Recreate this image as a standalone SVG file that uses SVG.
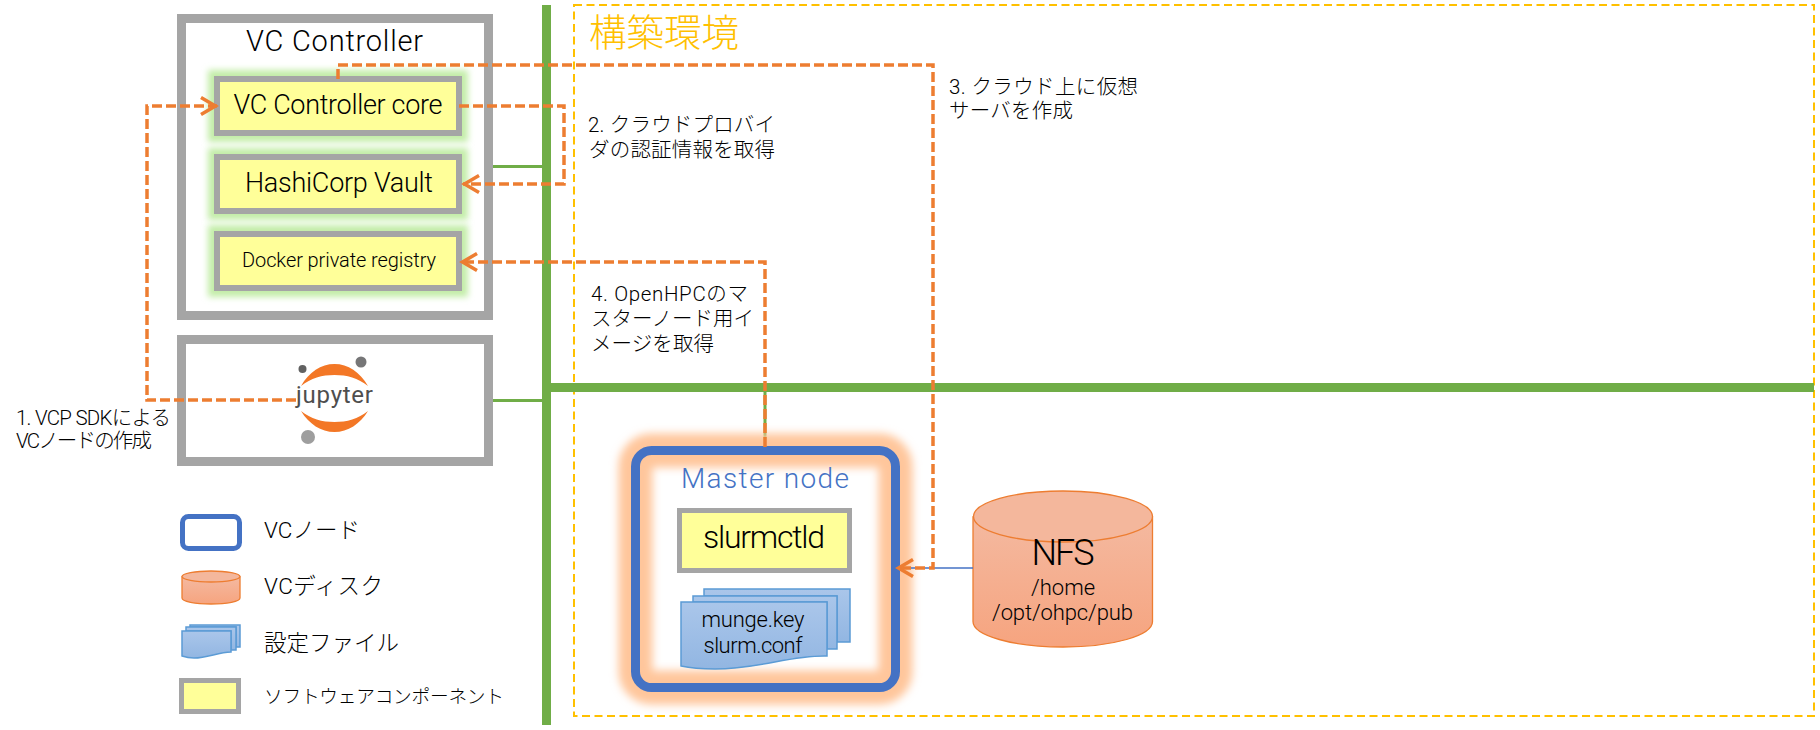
<svg xmlns="http://www.w3.org/2000/svg" width="1820" height="730" viewBox="0 0 1820 730">
<style>
text{font-family:Roboto,"Noto Sans CJK JP","Noto Sans",sans-serif;font-weight:300;fill:#000}
.m{text-anchor:middle}
.box{fill:#fff;stroke:#a5a5a5;stroke-width:9}
.sw{fill:#ff9;stroke:#a5a5a5;stroke-width:6}
.glow{fill:#c3eda8;filter:url(#b4)}
.dash{fill:none;stroke:#ed7d31;stroke-width:3.5;stroke-dasharray:10 4}
.bus{stroke:#70ad47;stroke-width:9;fill:none}
.thin{stroke:#70ad47;stroke-width:3;fill:none}
.sheet{fill:url(#gb);stroke:#5b9bd5;stroke-width:1.5}
.cyl{fill:url(#go);stroke:#ed7d31;stroke-width:1.3}
.cyltop{fill:#f4b79c;stroke:#ed7d31;stroke-width:1.3}
.l{font-size:20.5px}
.t21{font-size:22.5px}
</style>
<defs>
<filter id="b4" x="-30%" y="-60%" width="160%" height="220%"><feGaussianBlur stdDeviation="3"/></filter>
<filter id="b5" x="-20%" y="-20%" width="140%" height="140%"><feGaussianBlur stdDeviation="4"/></filter>
<linearGradient id="gb" x1="0" y1="0" x2="0" y2="1"><stop offset="0" stop-color="#aac6ea"/><stop offset="1" stop-color="#92b6e2"/></linearGradient>
<linearGradient id="go" x1="0" y1="0" x2="0" y2="1"><stop offset="0" stop-color="#f4b9a0"/><stop offset="1" stop-color="#f6a47f"/></linearGradient>
<marker id="arr" markerUnits="userSpaceOnUse" markerWidth="26" markerHeight="26" refX="21" refY="13" orient="auto"><path d="M5 4.5L19.5 13L5 21.5" fill="none" stroke="#ed7d31" stroke-width="3.5"/></marker>
</defs>

<g id="environment">
<rect x="574" y="5" width="1240" height="711" fill="none" stroke="#ffc000" stroke-width="2" stroke-dasharray="8 4.5"/>
<text x="589" y="46" font-size="37.500" textLength="150" lengthAdjust="spacingAndGlyphs" style="fill:#ffc000">構築環境</text>
</g>

<g id="network">
<path class="bus" d="M546.500 5V725M551 387.500H1814"/>
<path class="thin" d="M493 166.500H542M493 400.500H542M765 392V447"/>
</g>

<g id="vc-controller">
<rect class="box" x="181.500" y="18.500" width="307" height="297"/>
<text class="m" x="334.500" y="51" font-size="29" textLength="177" lengthAdjust="spacing">VC Controller</text>
</g>
<g id="vc-core">
<rect class="glow" x="208" y="70" width="260" height="72"/>
<rect class="sw" x="217" y="79" width="242" height="54"/>
<text class="m" x="338" y="114" font-size="27" textLength="209" lengthAdjust="spacing">VC Controller core</text>
</g>
<g id="vault">
<rect class="glow" x="208" y="148" width="260" height="72"/>
<rect class="sw" x="217" y="157" width="242" height="54"/>
<text class="m" x="339" y="192" font-size="27" textLength="188" lengthAdjust="spacing">HashiCorp Vault</text>
</g>
<g id="docker-registry">
<rect class="glow" x="208" y="225" width="260" height="72"/>
<rect class="sw" x="217" y="234" width="242" height="54"/>
<text class="m" x="339" y="267" font-size="20" textLength="194" lengthAdjust="spacing">Docker private registry</text>
</g>

<g id="jupyter">
<rect class="box" x="181.500" y="339.500" width="307" height="122"/>
<path d="M301 386C309 372 321 364 334.500 364C348 364 360 372 368 386C358 378 347 375 334.500 375C322 375 311 378 301 386Z" fill="#f37726"/>
<path d="M301 411C309 424 321 432 334.500 432C348 432 360 424 368 411C358 419 347 422 334.500 422C322 422 311 419 301 411Z" fill="#f37726"/>
<circle cx="302.500" cy="369" r="4" fill="#616161"/>
<circle cx="361" cy="362" r="5.500" fill="#767677"/>
<circle cx="308" cy="437" r="7" fill="#9e9e9e"/>
<text x="296" y="403" font-size="24" textLength="77" lengthAdjust="spacing" style="fill:#4e4e4e;font-weight:400">jupyter</text>
</g>

<g id="master-node">
<rect x="635.500" y="450.500" width="260" height="237" rx="16" fill="#fff"/>
<rect x="635.500" y="450.500" width="260" height="237" rx="16" fill="none" stroke="#ffc69b" stroke-width="34" filter="url(#b5)"/>
<rect x="635.500" y="450.500" width="260" height="237" rx="16" fill="none" stroke="#4472c4" stroke-width="9"/>
<text class="m" x="765" y="488" font-size="28" textLength="168" lengthAdjust="spacing" style="fill:#4472c4">Master node</text>
</g>
<g id="slurmctld">
<rect x="679.500" y="510.500" width="170" height="60" fill="#ff9" stroke="#a5a5a5" stroke-width="5"/>
<text class="m" x="764" y="548" font-size="32" textLength="122" lengthAdjust="spacing">slurmctld</text>
</g>
<g id="config-files">
<path class="sheet" d="M704 589H850V642H837V596H704Z"/>
<path class="sheet" d="M693 596H837V649H827V602H693Z"/>
<path class="sheet" d="M681 602H827V656C790 655 760 669 715 669C700 669 690 668 681 666Z"/>
<text class="m" x="753" y="627" font-size="22" textLength="103" lengthAdjust="spacing">munge.key</text>
<text class="m" x="753" y="653" font-size="22" textLength="99" lengthAdjust="spacing">slurm.conf</text>
</g>

<g id="nfs">
<path class="cyl" d="M973 517V621.500C973 635.500 1013 647 1063 647C1113 647 1152.500 635.500 1152.500 621.500V517Z"/>
<ellipse class="cyltop" cx="1063" cy="516.500" rx="89.500" ry="25.500"/>
<text class="m" x="1063" y="565" font-size="36" textLength="63" lengthAdjust="spacing">NFS</text>
<text class="m" x="1063" y="595" font-size="22">/home</text>
<text x="992" y="620" font-size="22" textLength="141" lengthAdjust="spacing">/opt/ohpc/pub</text>
</g>

<g id="connectors">
<path d="M973 568H905" fill="none" stroke="#4472c4" stroke-width="1.500"/>
<path class="dash" marker-end="url(#arr)" d="M296 400H147V106H217"/>
<path class="dash" marker-end="url(#arr)" d="M459 106H564V184H463"/>
<path class="dash" marker-end="url(#arr)" d="M338 79V65H933V568H897"/>
<path class="dash" marker-end="url(#arr)" d="M765 447V262H461"/>
</g>

<g id="labels">
<text class="l" x="16" y="425" textLength="155" lengthAdjust="spacing">1. VCP SDKによる</text>
<text class="l" x="16" y="448" textLength="136" lengthAdjust="spacing">VCノードの作成</text>
<text class="l" x="588" y="132" textLength="187" lengthAdjust="spacing">2. クラウドプロバイ</text>
<text class="l" x="589" y="157" textLength="186" lengthAdjust="spacing">ダの認証情報を取得</text>
<text class="l" x="949" y="94" textLength="189" lengthAdjust="spacing">3. クラウド上に仮想</text>
<text class="l" x="949" y="118" textLength="124" lengthAdjust="spacing">サーバを作成</text>
<text class="l" x="591" y="301" textLength="157" lengthAdjust="spacing">4. OpenHPCのマ</text>
<text class="l" x="591" y="326" textLength="163" lengthAdjust="spacing">スターノード用イ</text>
<text class="l" x="591" y="351" textLength="123" lengthAdjust="spacing">メージを取得</text>
</g>

<g id="legend">
<rect x="182.500" y="516.500" width="57" height="32" rx="6" fill="#fff" stroke="#4472c4" stroke-width="5"/>
<text class="t21" x="264" y="538" textLength="96" lengthAdjust="spacing">VCノード</text>
<path class="cyl" d="M182 577V598C182 601.500 195 604 211 604C227 604 240 601.500 240 598V577Z"/>
<ellipse class="cyltop" cx="211" cy="576.500" rx="29" ry="5.500"/>
<text class="t21" x="264" y="594" textLength="119" lengthAdjust="spacing">VCディスク</text>
<path class="sheet" d="M190 625H240V647H236V627H190Z"/>
<path class="sheet" d="M186 627H236V650H231V631H186Z"/>
<path class="sheet" d="M182 631H231V652C218 652 208 658 194 658C189 658 185 657 182 656Z"/>
<text class="t21" x="264" y="651" textLength="135" lengthAdjust="spacing">設定ファイル</text>
<rect x="181.500" y="680.500" width="57" height="31" fill="#ff9" stroke="#a5a5a5" stroke-width="5"/>
<text style="font-size:18.700px" x="264" y="703" textLength="240" lengthAdjust="spacing">ソフトウェアコンポーネント</text>
</g>
</svg>
